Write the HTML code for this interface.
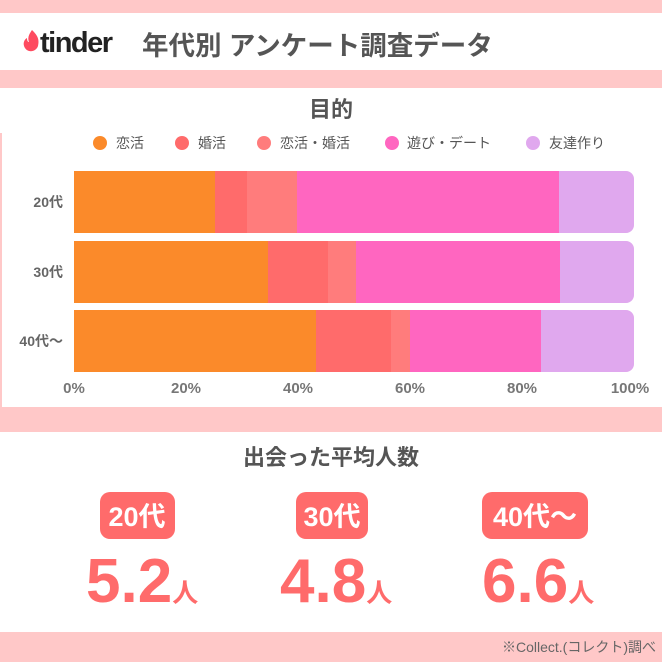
<!DOCTYPE html>
<html><head><meta charset="utf-8"><style>
html,body{margin:0;padding:0;background:#fff}
svg{display:block}
text{font-family:"Liberation Sans","Noto Sans CJK JP",sans-serif}
</style></head><body>
<svg width="662" height="662" viewBox="0 0 662 662" xmlns="http://www.w3.org/2000/svg">
<rect x="0" y="0" width="662" height="662" fill="#fff"/>
<rect x="0" y="0" width="662" height="13" fill="#ffc8c8"/>
<rect x="0" y="70" width="662" height="18" fill="#ffc8c8"/>
<rect x="0" y="407" width="662" height="25" fill="#ffc8c8"/>
<rect x="0" y="632" width="662" height="30" fill="#ffc8c8"/>
<rect x="0" y="133" width="2" height="274" fill="#ffc8c8"/>
<!-- header -->
<path d="M32 30 C36 34 40 38 38 46 C36 52 28 53 25 48 C22 43 25 39 27 38 C27 41 28 42 29 42 C27 37 30 33 32 30Z" fill="#fe4a5f"/>
<text x="40" y="52" font-size="29" font-weight="bold" fill="#222" letter-spacing="-1.5">tinder</text>
<text x="142" y="55" font-size="26.5" font-weight="bold" fill="#555">年代別 アンケート調査データ</text>
<!-- chart title -->
<text x="331" y="117" font-size="22" font-weight="bold" fill="#555" text-anchor="middle">目的</text>
<g font-size="14" fill="#555">
<circle cx="100" cy="143" r="7" fill="#fb8a2a"/><text x="116" y="148">恋活</text>
<circle cx="182" cy="143" r="7" fill="#ff6b6b"/><text x="198" y="148">婚活</text>
<circle cx="264" cy="143" r="7" fill="#ff7c7c"/><text x="280" y="148">恋活・婚活</text>
<circle cx="392" cy="143" r="7" fill="#ff66c0"/><text x="407" y="148">遊び・デート</text>
<circle cx="533" cy="143" r="7" fill="#e0a8ee"/><text x="549" y="148">友達作り</text>
</g>
<!-- bars -->
<g>
<rect x="74" y="171" width="141" height="62" fill="#fb8a2a"/>
<rect x="215" y="171" width="32" height="62" fill="#ff6b6b"/>
<rect x="247" y="171" width="50" height="62" fill="#ff7c7c"/>
<rect x="297" y="171" width="262" height="62" fill="#ff66c0"/>
<path d="M559 171 H626 a8 8 0 0 1 8 8 V225 a8 8 0 0 1 -8 8 H559Z" fill="#e0a8ee"/>

<rect x="74" y="241" width="194" height="62" fill="#fb8a2a"/>
<rect x="268" y="241" width="60" height="62" fill="#ff6b6b"/>
<rect x="328" y="241" width="28" height="62" fill="#ff7c7c"/>
<rect x="356" y="241" width="204" height="62" fill="#ff66c0"/>
<path d="M560 241 H626 a8 8 0 0 1 8 8 V295 a8 8 0 0 1 -8 8 H560Z" fill="#e0a8ee"/>

<rect x="74" y="310" width="242" height="62" fill="#fb8a2a"/>
<rect x="316" y="310" width="75" height="62" fill="#ff6b6b"/>
<rect x="391" y="310" width="19" height="62" fill="#ff7c7c"/>
<rect x="410" y="310" width="131" height="62" fill="#ff66c0"/>
<path d="M541 310 H626 a8 8 0 0 1 8 8 V364 a8 8 0 0 1 -8 8 H541Z" fill="#e0a8ee"/>
</g>
<g font-size="14" fill="#666" font-weight="bold" text-anchor="end">
<text x="63" y="207">20代</text>
<text x="63" y="277">30代</text>
<text x="63" y="346">40代〜</text>
</g>
<g font-size="15" fill="#777" font-weight="bold" text-anchor="middle">
<text x="74" y="393">0%</text>
<text x="186" y="393">20%</text>
<text x="298" y="393">40%</text>
<text x="410" y="393">60%</text>
<text x="522" y="393">80%</text>
<text x="630" y="393">100%</text>
</g>
<!-- bottom -->
<text x="331" y="465" font-size="22" font-weight="bold" fill="#555" text-anchor="middle">出会った平均人数</text>
<rect x="100" y="492" width="75" height="47" rx="10" fill="#ff6b6b"/>
<rect x="296" y="492" width="72" height="47" rx="10" fill="#ff6b6b"/>
<rect x="482" y="492" width="106" height="47" rx="10" fill="#ff6b6b"/>
<g font-size="27" font-weight="bold" fill="#fff" text-anchor="middle">
<text x="137" y="526">20代</text>
<text x="332" y="526">30代</text>
<text x="535" y="526">40代〜</text>
</g>
<g fill="#ff6b6b" font-weight="bold">
<text x="86" y="602" font-size="62">5.2<tspan font-size="26">人</tspan></text>
<text x="280" y="602" font-size="62">4.8<tspan font-size="26">人</tspan></text>
<text x="482" y="602" font-size="62">6.6<tspan font-size="26">人</tspan></text>
</g>
<text x="656" y="652" font-size="14" fill="#666" text-anchor="end">※Collect.(コレクト)調べ</text>
</svg>
</body></html>
